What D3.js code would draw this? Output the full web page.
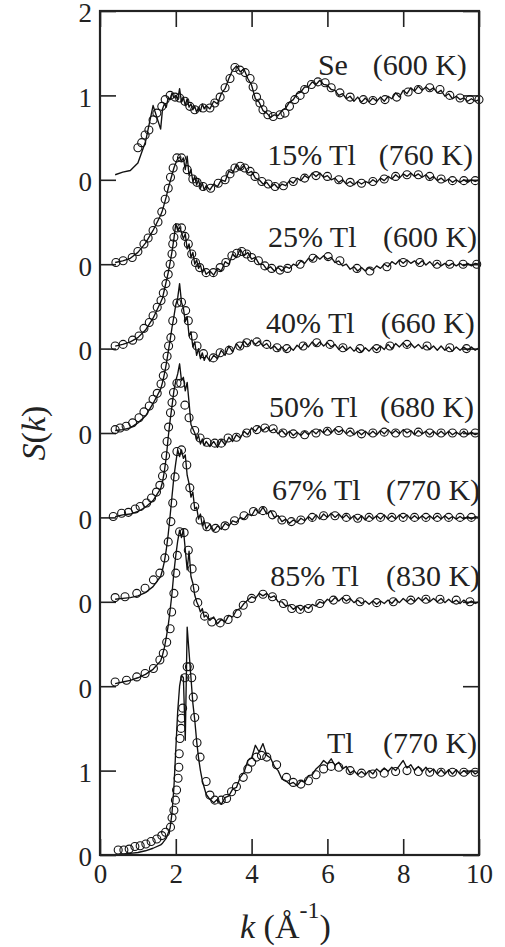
<!DOCTYPE html>
<html>
<head>
<meta charset="utf-8">
<script src="https://cdn.jsdelivr.net/npm/d3@7.9.0/dist/d3.min.js"></script>
<style>
  html, body { margin: 0; padding: 0; background: #fff; }
  svg { display: block; }
</style>
</head>
<body>
<svg id="chart" width="505" height="947" font-family="Liberation Serif, Times New Roman, DejaVu Serif, serif"></svg>
<script>
// k grid shared by all the measured (noisy) curves
const kGrid = [0.4, 0.6, 0.8, 1.0, 1.2, 1.4,
  1.60, 1.65, 1.70, 1.75, 1.80, 1.85, 1.90, 1.95, 2.00, 2.05, 2.10, 2.15,
  2.20, 2.25, 2.30, 2.35, 2.40, 2.45, 2.50, 2.55, 2.60, 2.65, 2.70, 2.75,
  2.8, 2.9, 3.0, 3.1, 3.2, 3.3, 3.4, 3.5, 3.6, 3.7, 3.8, 3.9, 4.0, 4.1, 4.2, 4.3, 4.4, 4.5,
  4.6, 4.7, 4.8, 4.9, 5.0, 5.1, 5.2, 5.3, 5.4, 5.5, 5.6, 5.7, 5.8, 5.9, 6.0, 6.1, 6.2, 6.3,
  6.4, 6.5, 6.6, 6.7, 6.8, 6.9, 7.0, 7.1, 7.2, 7.3, 7.4, 7.5, 7.6, 7.7, 7.8, 7.9, 8.0, 8.1,
  8.2, 8.3, 8.4, 8.5, 8.6, 8.7, 8.8, 8.9, 9.0, 9.1, 9.2, 9.3, 9.4, 9.5, 9.6, 9.7, 9.8, 9.9, 10.0];

// measured S(k), one value per kGrid point
const seLine = [0.06, 0.09, 0.11, 0.2, 0.45, 0.88,
  0.6, 0.84, 0.9, 0.86, 0.98, 0.95, 1.03, 0.97, 1.0, 0.95, 1.08, 0.92, 0.98, 0.88, 0.96, 0.86, 0.9, 0.83, 0.87, 0.8, 0.86, 0.81, 0.9, 0.84,
  0.88, 0.84, 0.93, 0.9, 1.02, 1.08, 1.2, 1.3, 1.35, 1.28, 1.31, 1.2, 1.12, 0.96, 0.92, 0.82, 0.79, 0.74, 0.77, 0.76, 0.82, 0.85, 0.92, 0.95,
  1.02, 1.04, 1.1, 1.1, 1.16, 1.13, 1.18, 1.13, 1.12, 1.07, 1.06, 1.0, 1.02, 0.96, 0.99, 0.93, 0.98, 0.92, 0.97, 0.92, 0.97, 0.93, 0.98, 0.93,
  0.99, 0.96, 1.03, 0.98, 1.06, 1.02, 1.09, 1.05, 1.11, 1.06, 1.1, 1.06, 1.09, 1.03, 1.06, 0.99, 1.02, 0.96, 0.99, 0.95, 0.97, 0.93, 0.96, 0.93, 0.95];
const tl15Line = [0.02, 0.04, 0.07, 0.14, 0.25, 0.4,
  0.58, 0.64, 0.72, 0.8, 0.9, 0.98, 1.06, 1.14, 1.2, 1.25, 1.27, 1.22, 1.26, 1.12, 1.28, 1.05, 1.12, 0.98, 1.04, 0.94, 1.0, 0.9, 0.96, 0.88,
  0.93, 0.88, 0.95, 0.92, 1.0, 0.98, 1.1, 1.08, 1.18, 1.12, 1.17, 1.08, 1.1, 1.02, 1.0, 0.95, 0.97, 0.91, 0.95, 0.9, 0.95, 0.93, 0.99, 0.96,
  1.02, 0.99, 1.05, 1.02, 1.08, 1.04, 1.08, 1.03, 1.05, 1.0, 1.02, 0.97, 1.0, 0.95, 0.98, 0.94, 0.98, 0.95, 0.98, 0.96, 1.0, 0.97, 1.02, 0.99,
  1.04, 1.01, 1.06, 1.02, 1.07, 1.04, 1.08, 1.04, 1.07, 1.03, 1.06, 1.01, 1.04, 0.99, 1.02, 0.98, 1.01, 0.97, 1.0, 0.97, 1.0, 0.97, 1.0, 0.98, 1.0];
const tl25Line = [0.03, 0.05, 0.08, 0.13, 0.22, 0.36,
  0.55, 0.6, 0.7, 0.8, 0.9, 1.02, 1.15, 1.3, 1.48, 1.4, 1.44, 1.38, 1.3, 1.36, 1.18, 1.24, 1.08, 1.14, 1.0, 1.05, 0.95, 0.99, 0.9, 0.94,
  0.88, 0.92, 0.87, 0.95, 0.92, 1.03, 1.0, 1.12, 1.08, 1.18, 1.1, 1.14, 1.06, 1.08, 1.0, 1.0, 0.94, 0.97, 0.92, 0.96, 0.92, 0.97, 0.95, 1.0,
  0.98, 1.04, 1.01, 1.07, 1.04, 1.1, 1.06, 1.1, 1.06, 1.08, 1.02, 1.04, 0.98, 1.0, 0.94, 0.97, 0.92, 0.96, 0.92, 0.96, 0.93, 0.98, 0.95, 1.0,
  0.97, 1.03, 1.0, 1.05, 1.01, 1.05, 1.01, 1.04, 1.0, 1.04, 0.99, 1.03, 0.98, 1.02, 0.98, 1.01, 0.98, 1.01, 0.98, 1.01, 0.98, 1.01, 0.98, 1.01, 1.0];
const tl40Line = [0.03, 0.04, 0.06, 0.12, 0.2, 0.35,
  0.52, 0.6, 0.7, 0.82, 0.96, 1.1, 1.25, 1.38, 1.52, 1.6, 1.77, 1.55, 1.48, 1.32, 1.38, 1.15, 1.2, 1.02, 1.08, 0.92, 1.0, 0.88, 0.95, 0.86,
  0.92, 0.85, 0.92, 0.88, 0.98, 0.92, 1.03, 0.96, 1.06, 1.0, 1.09, 1.04, 1.1, 1.05, 1.09, 1.03, 1.06, 1.0, 1.03, 0.98, 1.02, 0.97, 1.02, 0.98,
  1.04, 1.0, 1.06, 1.02, 1.08, 1.03, 1.08, 1.03, 1.07, 1.02, 1.05, 0.99, 1.03, 0.98, 1.02, 0.97, 1.01, 0.96, 1.01, 0.97, 1.02, 0.98, 1.03, 0.99,
  1.05, 1.0, 1.06, 1.02, 1.07, 1.02, 1.06, 1.01, 1.05, 1.0, 1.04, 0.99, 1.03, 0.98, 1.03, 0.98, 1.02, 0.97, 1.02, 0.98, 1.02, 0.98, 1.02, 0.98, 1.01];
const tl50Line = [0.01, 0.03, 0.04, 0.07, 0.12, 0.2,
  0.34, 0.42, 0.55, 0.72, 0.95, 1.15, 1.32, 1.5, 1.62, 1.7, 1.82, 1.62, 1.66, 1.5, 1.6, 1.36, 1.1, 1.05, 1.0, 0.92, 0.97, 0.87, 0.93, 0.85,
  0.9, 0.84, 0.9, 0.83, 0.92, 0.86, 0.95, 0.9, 0.98, 0.94, 1.02, 0.98, 1.06, 1.02, 1.08, 1.03, 1.07, 1.02, 1.05, 0.99, 1.03, 0.98, 1.02, 0.97,
  1.01, 0.97, 1.02, 0.98, 1.03, 0.99, 1.04, 1.0, 1.05, 1.0, 1.05, 1.01, 1.04, 0.99, 1.03, 0.98, 1.02, 0.98, 1.02, 0.98, 1.02, 0.98, 1.03, 0.99,
  1.04, 0.99, 1.03, 0.99, 1.04, 1.0, 1.03, 0.98, 1.03, 0.99, 1.02, 0.98, 1.02, 0.98, 1.02, 0.98, 1.02, 0.98, 1.01, 0.98, 1.02, 0.98, 1.01, 0.98, 1.0];
const tl67Line = [0.03, 0.04, 0.05, 0.07, 0.11, 0.18,
  0.3, 0.38, 0.48, 0.62, 0.8, 1.02, 1.25, 1.48, 1.65, 1.8, 1.72, 1.8, 1.7, 1.74, 1.5, 1.4, 1.24, 1.3, 1.1, 1.12, 0.98, 1.04, 0.9, 0.96,
  0.86, 0.92, 0.84, 0.9, 0.86, 0.93, 0.9, 0.96, 0.94, 1.0, 0.98, 1.04, 1.02, 1.1, 1.05, 1.12, 1.04, 1.08, 1.0, 1.02, 0.95, 0.98, 0.93, 0.97,
  0.94, 0.99, 0.96, 1.01, 0.97, 1.03, 0.98, 1.04, 1.0, 1.05, 1.0, 1.04, 0.99, 1.03, 0.98, 1.02, 0.97, 1.02, 0.97, 1.02, 0.98, 1.02, 0.98, 1.03,
  0.98, 1.02, 0.98, 1.03, 0.99, 1.03, 0.98, 1.02, 0.98, 1.02, 0.98, 1.02, 0.98, 1.02, 0.98, 1.02, 0.98, 1.01, 0.98, 1.01, 0.98, 1.01, 0.98, 1.01, 1.0];
const tl85Line = [0.03, 0.05, 0.07, 0.1, 0.14, 0.2,
  0.3, 0.37, 0.46, 0.58, 0.72, 0.9, 1.1, 1.35, 1.55, 1.72, 1.85, 1.76, 1.86, 1.62, 1.38, 1.6, 1.3, 1.22, 1.08, 1.0, 0.95, 0.88, 0.92, 0.82,
  0.84, 0.78, 0.82, 0.74, 0.79, 0.76, 0.84, 0.82, 0.9, 0.92, 0.98, 1.02, 1.06, 1.04, 1.1, 1.07, 1.1, 1.05, 1.07, 1.0, 1.0, 0.95, 0.96, 0.91,
  0.95, 0.9, 0.95, 0.92, 0.97, 0.95, 1.0, 0.98, 1.03, 1.0, 1.05, 1.01, 1.05, 1.01, 1.04, 0.99, 1.02, 0.98, 1.01, 0.97, 1.01, 0.97, 1.01, 0.98,
  1.02, 0.98, 1.03, 0.99, 1.04, 1.0, 1.04, 1.0, 1.05, 1.01, 1.05, 1.0, 1.04, 1.0, 1.04, 0.99, 1.03, 0.99, 1.02, 0.98, 1.02, 0.98, 1.01, 0.98, 1.0];
const tlLine = [0.0, 0.01, 0.02, 0.03, 0.05, 0.08,
  0.12, 0.14, 0.17, 0.2, 0.26, 0.32, 0.5, 0.8, 1.25, 1.7, 2.0, 2.13, 2.1, 1.36, 2.7, 2.4, 2.1, 1.8, 1.6, 1.35, 1.15, 1.0, 0.88, 0.8,
  0.72, 0.66, 0.62, 0.66, 0.6, 0.68, 0.7, 0.78, 0.8, 0.92, 0.98, 1.12, 1.15, 1.3, 1.22, 1.32, 1.18, 1.15, 1.05, 1.0, 0.9, 0.88, 0.84, 0.86,
  0.82, 0.88, 0.86, 0.94, 0.95, 1.02, 1.06, 1.12, 1.08, 1.14, 1.06, 1.1, 1.02, 1.05, 0.97, 1.0, 0.95, 0.99, 0.95, 1.0, 0.96, 1.02, 0.98, 1.03,
  0.99, 1.04, 1.0, 1.06, 1.12, 1.03, 1.07, 1.0, 1.05, 0.99, 1.04, 0.98, 1.02, 0.96, 1.01, 0.96, 1.01, 0.96, 1.01, 0.96, 1.0, 0.96, 1.0, 0.96, 0.99];

// simulated S(k), [k, S] pairs drawn as open circles
const seDots = [[1.0,0.38],[1.1,0.44],[1.19,0.53],[1.29,0.59],[1.4,0.71],[1.5,0.79],[1.63,0.87],[1.72,0.95],[1.85,1.0],[1.98,0.98],[2.1,0.97],[2.24,0.93],[2.37,0.87],[2.5,0.83],[2.72,0.85],[2.9,0.85],[3.03,0.91],[3.17,0.98],[3.3,1.09],[3.43,1.2],[3.56,1.33],[3.69,1.3],[3.83,1.27],[3.96,1.2],[4.04,1.1],[4.13,0.98],[4.22,0.91],[4.3,0.83],[4.43,0.77],[4.57,0.75],[4.75,0.77],[4.88,0.79],[5.0,0.87],[5.14,0.95],[5.28,1.0],[5.4,1.07],[5.58,1.13],[5.75,1.16],[5.94,1.15],[6.1,1.09],[6.33,1.03],[6.6,0.98],[6.95,0.95],[7.2,0.94],[7.52,0.95],[7.83,0.98],[8.13,1.04],[8.4,1.07],[8.7,1.09],[8.97,1.07],[9.23,1.0],[9.5,0.97],[9.76,0.95],[10.0,0.95]];
const tl15Dots = [[0.42,0.02],[0.61,0.04],[0.85,0.08],[1.0,0.15],[1.16,0.24],[1.27,0.31],[1.4,0.4],[1.53,0.5],[1.63,0.62],[1.72,0.77],[1.8,0.9],[1.86,1.03],[1.93,1.14],[2.03,1.26],[2.15,1.26],[2.3,1.12],[2.45,1.01],[2.56,0.97],[2.72,0.92],[2.92,0.9],[3.12,0.96],[3.3,1.0],[3.43,1.07],[3.56,1.14],[3.7,1.16],[3.82,1.14],[3.96,1.1],[4.09,1.04],[4.27,0.98],[4.44,0.95],[4.62,0.92],[4.84,0.93],[5.1,0.98],[5.4,1.02],[5.7,1.05],[6.0,1.04],[6.3,1.0],[6.6,0.97],[6.9,0.96],[7.2,0.98],[7.5,1.01],[7.8,1.04],[8.1,1.06],[8.4,1.06],[8.7,1.04],[9.0,1.01],[9.3,0.99],[9.6,0.99],[9.9,0.99]];
const tl25Dots = [[0.4,0.03],[0.61,0.05],[0.86,0.1],[1.03,0.15],[1.16,0.24],[1.3,0.31],[1.4,0.39],[1.51,0.49],[1.61,0.57],[1.67,0.66],[1.74,0.77],[1.8,0.88],[1.85,1.0],[1.9,1.12],[1.92,1.24],[1.95,1.32],[2.03,1.43],[2.15,1.43],[2.24,1.33],[2.33,1.24],[2.42,1.12],[2.52,1.02],[2.63,0.96],[2.8,0.9],[2.99,0.9],[3.17,0.96],[3.32,1.02],[3.48,1.1],[3.61,1.13],[3.74,1.15],[3.87,1.12],[4.0,1.08],[4.18,1.04],[4.35,0.98],[4.53,0.95],[4.75,0.93],[4.95,0.95],[5.28,1.0],[5.62,1.07],[6.02,1.09],[6.33,1.04],[6.78,0.95],[7.12,0.92],[7.57,0.97],[8.0,1.02],[8.44,1.02],[8.89,1.0],[9.23,1.0],[9.58,1.0],[9.94,1.0]];
const tl40Dots = [[0.4,0.04],[0.53,0.06],[0.69,0.08],[0.86,0.12],[1.03,0.18],[1.16,0.25],[1.3,0.32],[1.4,0.4],[1.51,0.47],[1.61,0.58],[1.67,0.68],[1.72,0.79],[1.77,0.91],[1.81,1.03],[1.87,1.13],[1.92,1.33],[2.03,1.54],[2.15,1.55],[2.26,1.45],[2.33,1.33],[2.46,1.15],[2.56,1.03],[2.73,0.94],[2.99,0.89],[3.17,0.95],[3.41,0.98],[3.69,1.03],[3.87,1.07],[4.14,1.08],[4.4,1.05],[4.67,1.01],[4.93,1.0],[5.36,1.03],[5.72,1.07],[6.07,1.05],[6.41,1.01],[6.86,1.0],[7.3,1.0],[7.65,1.03],[8.1,1.05],[8.63,1.03],[9.23,1.01],[9.67,1.0]];
const tl50Dots = [[0.35,0.01],[0.57,0.05],[0.75,0.06],[0.93,0.1],[1.06,0.13],[1.23,0.17],[1.36,0.23],[1.49,0.3],[1.58,0.38],[1.65,0.49],[1.69,0.59],[1.73,0.73],[1.77,0.9],[1.81,1.07],[1.86,1.24],[1.9,1.36],[1.94,1.48],[2.03,1.59],[2.13,1.59],[2.24,1.33],[2.35,1.18],[2.5,1.03],[2.64,0.94],[2.82,0.89],[3.03,0.88],[3.2,0.88],[3.38,0.94],[3.6,0.95],[3.87,1.0],[4.14,1.04],[4.35,1.06],[4.57,1.05],[4.83,1.0],[5.1,0.99],[5.4,0.98],[5.7,1.0],[6.0,1.02],[6.3,1.03],[6.6,1.01],[6.9,0.99],[7.2,1.0],[7.5,1.01],[7.8,1.0],[8.1,1.0],[8.4,1.01],[8.7,1.0],[9.0,1.0],[9.3,1.0],[9.6,1.0],[9.9,1.0]];
const tl67Dots = [[0.4,0.05],[0.66,0.06],[0.97,0.1],[1.19,0.16],[1.41,0.26],[1.58,0.34],[1.71,0.52],[1.8,0.71],[1.87,0.95],[1.92,1.17],[1.98,1.48],[2.03,1.78],[2.15,1.8],[2.29,1.62],[2.37,1.35],[2.5,1.13],[2.64,0.97],[2.82,0.89],[3.05,0.87],[3.3,0.9],[3.55,0.96],[3.8,1.02],[4.05,1.07],[4.3,1.08],[4.55,1.03],[4.8,0.97],[5.05,0.95],[5.3,0.97],[5.6,1.0],[5.9,1.02],[6.2,1.02],[6.5,1.0],[6.8,0.99],[7.1,1.0],[7.4,1.0],[7.7,1.0],[8.0,1.0],[8.3,1.0],[8.6,1.0],[8.9,1.0],[9.2,1.0],[9.5,1.0],[9.8,1.0]];
const tl85Dots = [[0.4,0.05],[0.7,0.07],[0.97,0.11],[1.19,0.15],[1.41,0.21],[1.58,0.31],[1.67,0.39],[1.76,0.52],[1.85,0.68],[1.89,0.88],[1.95,1.1],[2.0,1.34],[2.04,1.55],[2.1,1.83],[2.22,1.82],[2.33,1.61],[2.43,1.39],[2.5,1.16],[2.58,0.99],[2.76,0.83],[2.95,0.76],[3.17,0.75],[3.38,0.79],[3.62,0.86],[3.78,0.96],[4.0,1.04],[4.3,1.09],[4.55,1.06],[4.84,0.98],[5.06,0.92],[5.28,0.91],[5.5,0.92],[5.8,0.98],[6.16,1.02],[6.5,1.03],[6.86,1.0],[7.3,0.99],[7.74,1.0],[8.2,1.02],[8.6,1.03],[8.97,1.03],[9.4,1.02],[9.76,1.0]];
const tlDots = [[0.48,0.06],[0.63,0.06],[0.77,0.07],[0.92,0.1],[1.06,0.11],[1.21,0.13],[1.35,0.16],[1.5,0.19],[1.63,0.23],[1.73,0.27],[1.86,0.33],[1.9,0.44],[1.95,0.53],[1.99,0.65],[2.02,0.77],[2.06,0.91],[2.08,1.04],[2.09,1.2],[2.11,1.38],[2.14,1.5],[2.15,1.62],[2.18,1.74],[2.24,2.1],[2.3,2.23],[2.36,2.23],[2.42,2.1],[2.46,1.87],[2.5,1.63],[2.56,1.33],[2.64,1.16],[2.8,0.87],[2.9,0.71],[3.03,0.65],[3.2,0.65],[3.34,0.67],[3.47,0.75],[3.6,0.81],[3.78,0.92],[3.9,1.02],[4.0,1.1],[4.13,1.16],[4.26,1.18],[4.4,1.16],[4.66,1.07],[4.92,0.92],[5.1,0.86],[5.3,0.84],[5.5,0.88],[5.7,0.95],[5.9,1.02],[6.1,1.05],[6.3,1.04],[6.6,1.0],[6.9,0.97],[7.2,0.96],[7.5,0.97],[7.8,0.99],[8.1,1.0],[8.4,0.99],[8.7,0.98],[9.0,0.98],[9.3,0.98],[9.6,0.98],[9.9,0.98]];

// each curve is shifted up by an offset (in y units)
const seriesNames = ['Se', '15% Tl', '25% Tl', '40% Tl', '50% Tl', '67% Tl', '85% Tl', 'Tl'];
const seriesTemps = ['(600 K)', '(760 K)', '(600 K)', '(660 K)', '(680 K)', '(770 K)', '(830 K)', '(770 K)'];
const seriesOffsets = [8, 7, 6, 5, 4, 3, 2, 0];
const seriesLines = [seLine, tl15Line, tl25Line, tl40Line, tl50Line, tl67Line, tl85Line, tlLine];
const seriesDots = [seDots, tl15Dots, tl25Dots, tl40Dots, tl50Dots, tl67Dots, tl85Dots, tlDots];

const xTicks = [0, 2, 4, 6, 8, 10];
const yTicks = [0, 1, 2, 3, 4, 5, 6, 7, 8, 9, 10];
const yTickLabels = ['0', '1', '0', '0', '0', '0', '0', '0', '0', '1', '2'];

// label anchors in data units: [k where name starts, k where temperature ends, y baseline]
const labelAnchors = [[5.75, 9.68, 9.24], [4.41, 9.84, 8.18], [4.43, 9.95, 7.20], [4.38, 9.89, 6.18],
                      [4.46, 9.87, 5.19], [4.54, 10.03, 4.21], [4.49, 10.03, 3.19], [5.99, 9.95, 1.21]];

const serif = 'Liberation Serif, Times New Roman, DejaVu Serif, serif';
const margin = { top: 11, right: 26, bottom: 92, left: 100 };
const width = 505, height = 947;

const svg = d3.select('#chart');

const x = d3.scaleLinear().domain([0, 10]).range([margin.left, width - margin.right]);
const y = d3.scaleLinear().domain([0, 10]).range([height - margin.bottom, margin.top]);

const tickFont = 27;

// axes, ticks pointing inward
svg.append('g')
  .attr('transform', `translate(0, ${y(0)})`)
  .call(d3.axisBottom(x).tickValues(xTicks).tickSizeInner(-16).tickSizeOuter(0).tickPadding(9).tickFormat(d3.format('d')));
svg.append('g')
  .attr('transform', `translate(0, ${y(10)})`)
  .call(d3.axisTop(x).tickValues(xTicks).tickSizeInner(-16).tickSizeOuter(0).tickFormat(''));
const yAxisG = svg.append('g')
  .attr('transform', `translate(${x(0)}, 0)`)
  .call(d3.axisLeft(y).tickValues(yTicks).tickSizeInner(-16).tickSizeOuter(0).tickPadding(8)
    .tickFormat((d, i) => yTickLabels[i]));
svg.append('g')
  .attr('transform', `translate(${x(10)}, 0)`)
  .call(d3.axisRight(y).tickValues(yTicks).tickSizeInner(-16).tickSizeOuter(0).tickFormat(''));

svg.selectAll('.domain').remove();
svg.selectAll('.tick line').attr('stroke', '#222').attr('stroke-width', 1.6);
svg.selectAll('.tick text')
  .attr('font-family', serif)
  .attr('font-size', tickFont)
  .attr('fill', '#222');
yAxisG.selectAll('.tick text').attr('dy', '0.4em');

// curves
const line = d3.line()
  .x((d) => x(d[0]))
  .y((d) => y(d[1]));

const curves = svg.append('g').attr('class', 'curves');

seriesLines.forEach((vals, i) => {
  const off = seriesOffsets[i];
  const pts = kGrid.map((k, j) => [k, vals[j] + off]);
  curves.append('path')
    .attr('d', line(pts))
    .attr('fill', 'none')
    .attr('stroke', '#111')
    .attr('stroke-width', 1.35)
    .attr('stroke-linejoin', 'round');
});

seriesDots.forEach((dots, i) => {
  const off = seriesOffsets[i];
  curves.append('g')
    .selectAll('circle')
    .data(dots)
    .join('circle')
    .attr('cx', (d) => x(d[0]))
    .attr('cy', (d) => y(d[1] + off))
    .attr('r', 4)
    .attr('fill', 'none')
    .attr('stroke', '#111')
    .attr('stroke-width', 1.1);
});

// frame
svg.append('rect')
  .attr('x', x(0))
  .attr('y', y(10))
  .attr('width', x(10) - x(0))
  .attr('height', y(0) - y(10))
  .attr('fill', 'none')
  .attr('stroke', '#222')
  .attr('stroke-width', 2.2);

// series labels
const labels = svg.append('g')
  .attr('font-family', serif)
  .attr('font-size', 30)
  .attr('fill', '#222');

labelAnchors.forEach((a, i) => {
  labels.append('text')
    .attr('x', x(a[0]))
    .attr('y', y(a[2]))
    .attr('text-anchor', 'start')
    .text(seriesNames[i]);
  labels.append('text')
    .attr('x', x(a[1]))
    .attr('y', y(a[2]))
    .attr('text-anchor', 'end')
    .text(seriesTemps[i]);
});

// axis titles
const yTitle = svg.append('text')
  .attr('transform', `translate(45, ${y(5)}) rotate(-90)`)
  .attr('text-anchor', 'middle')
  .attr('font-family', serif)
  .attr('font-size', 34)
  .attr('fill', '#222');
yTitle.append('tspan').attr('font-style', 'italic').text('S');
yTitle.append('tspan').text('(');
yTitle.append('tspan').attr('font-style', 'italic').text('k');
yTitle.append('tspan').text(')');

const xTitle = svg.append('text')
  .attr('x', 240)
  .attr('y', 938)
  .attr('font-family', serif)
  .attr('font-size', 34)
  .attr('fill', '#222');
xTitle.append('tspan').attr('font-style', 'italic').text('k');
xTitle.append('tspan').text(' (Å');
xTitle.append('tspan').attr('font-size', 24).attr('dy', -20).text('-1');
xTitle.append('tspan').attr('dy', 20).text(')');
</script>
</body>
</html>
